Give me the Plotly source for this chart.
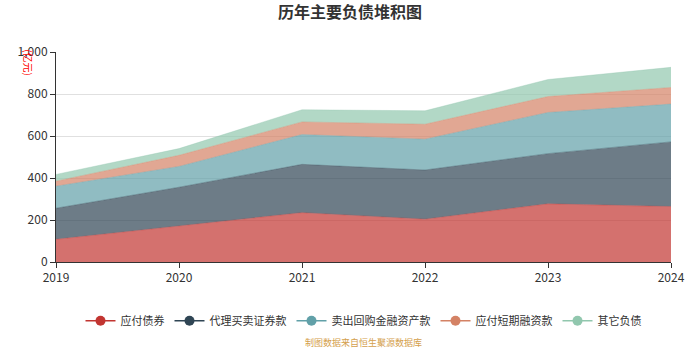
import plotly.graph_objects as go

years = ["2019", "2020", "2021", "2022", "2023", "2024"]
names = ["应付债券", "代理买卖证券款", "卖出回购金融资产款", "应付短期融资款", "其它负债"]
bonds = [108, 170, 235, 204, 277, 264]
agency = [148, 186, 230, 234, 239, 308]
repo = [105, 99, 142, 147, 196, 180]
shortfin = [24, 53, 60, 71, 76, 79]
other = [32, 32, 58, 64, 81, 96]
series = [bonds, agency, repo, shortfin, other]
colors = ["#c23531", "#2f4554", "#61a0a8", "#d48265", "#91c7ae"]
fills = ["rgba(194,53,49,0.7)", "rgba(47,69,84,0.7)", "rgba(97,160,168,0.7)",
         "rgba(212,130,101,0.7)", "rgba(145,199,174,0.7)"]

fig = go.Figure()
for n, s, c, f in zip(names, series, colors, fills):
    fig.add_trace(go.Scatter(x=years, y=s, name=n, stackgroup="one", mode="lines",
                             line=dict(width=0.5, color=f), fillcolor=f,
                             showlegend=False, hoverinfo="x+y+name"))
for n, c in zip(names, colors):
    fig.add_trace(go.Scatter(x=[None], y=[None], name=n, mode="lines+markers",
                             line=dict(color=c, width=1.5),
                             marker=dict(color=c, size=10)))

fig.update_layout(
    width=700, height=350,
    margin=dict(l=56, r=29, t=52, b=88),
    paper_bgcolor="white", plot_bgcolor="white",
    font=dict(family="Noto Sans CJK SC, Noto Sans, sans-serif", color="#333", size=12),
    title=dict(text="<b>历年主要负债堆积图</b>", x=0.5, xanchor="center", y=0.965, yanchor="middle",
               font=dict(size=16, color="#333")),
    xaxis=dict(type="category", range=[0, 5], showgrid=False, showline=True, linecolor="#333",
               linewidth=1, ticks="outside", ticklen=5, tickcolor="#333",
               tickfont=dict(size=12, color="#333"), zeroline=False),
    yaxis=dict(range=[0, 1000], dtick=200, tickformat=",", showgrid=True, gridcolor="#e0e0e0",
               showline=True, linecolor="#333", linewidth=1, ticks="outside", ticklen=5,
               tickcolor="#333", tickfont=dict(size=12, color="#333"), zeroline=False),
    legend=dict(orientation="h", x=0.5, xanchor="center", y=-0.28, yanchor="middle",
                font=dict(size=11, color="#333"), itemwidth=30, traceorder="normal"),
    showlegend=True,
)
fig.add_annotation(text="(亿元)", xref="paper", yref="paper", x=-0.045, y=0.95,
                   textangle=90, showarrow=False, font=dict(size=10, color="red"),
                   xanchor="center", yanchor="middle")
fig.add_annotation(text="制图数据来自恒生聚源数据库", xref="paper", yref="paper", x=0.5, y=-0.385,
                   showarrow=False, font=dict(size=9, color="#d4a04c"),
                   xanchor="center", yanchor="middle")
fig.write_html("out.html")
